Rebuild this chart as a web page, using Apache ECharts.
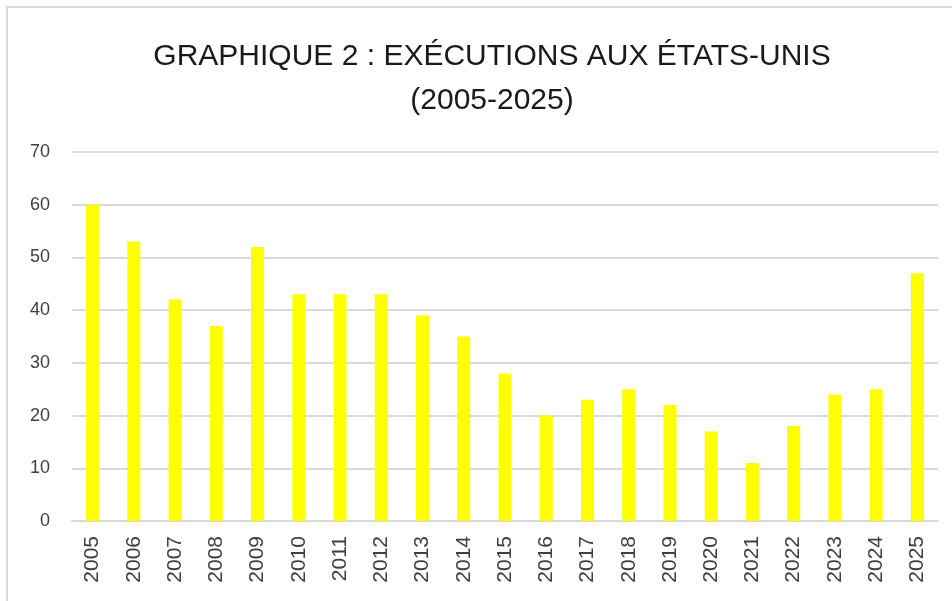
<!DOCTYPE html>
<html>
<head>
<meta charset="utf-8">
<script src="https://cdn.jsdelivr.net/npm/echarts@6/dist/echarts.min.js"></script>
<style>
  html, body { margin: 0; padding: 0; background: #fff; }
  #frame {
    position: absolute; left: 6px; top: 6px; width: 960px; height: 610px;
    border: 2px solid #d9d9d9; box-sizing: border-box;
  }
  #chart { position: absolute; left: 0; top: 0; width: 952px; height: 601px; }
</style>
</head>
<body>
<div id="frame"></div>
<div id="chart"></div>
<script>
const years = ["2005", "2006", "2007", "2008", "2009", "2010", "2011", "2012", "2013", "2014",
  "2015", "2016", "2017", "2018", "2019", "2020", "2021", "2022", "2023", "2024", "2025"];
const executions = [60, 53, 42, 37, 52, 43, 43, 43, 39, 35, 28, 20, 23, 25, 22, 17, 11, 18, 24, 25, 47];
const titleLines = ["GRAPHIQUE 2 : EXÉCUTIONS AUX ÉTATS-UNIS", "(2005-2025)"];

const chart = echarts.init(document.getElementById("chart"));

chart.setOption({
  backgroundColor: "transparent",
  title: {
    text: titleLines.join("\n"),
    left: 487,
    textAlign: "center",
    top: 30,
    textStyle: {
      fontFamily: "Liberation Sans, sans-serif",
      fontSize: 30,
      fontWeight: "normal",
      color: "#1a1a1a",
      lineHeight: 44,
    },
  },
  grid: {
    left: 72,
    right: 14,
    top: 152,
    bottom: 80,
  },
  xAxis: {
    type: "category",
    data: years,
    axisLine: { lineStyle: { color: "#d9d9d9", width: 2 } },
    axisTick: { show: false },
    axisLabel: {
      rotate: 90,
      color: "#404040",
      fontSize: 21,
      fontFamily: "Liberation Sans, sans-serif",
      margin: 15,
      interval: 0,
    },
  },
  yAxis: {
    type: "value",
    min: 0,
    max: 70,
    interval: 10,
    axisLine: { show: false },
    axisTick: { show: false },
    splitLine: { lineStyle: { color: "#d9d9d9", width: 2 } },
    axisLabel: {
      color: "#404040",
      fontSize: 18,
      fontFamily: "Liberation Sans, sans-serif",
      margin: 22,
    },
  },
  series: [
    {
      type: "bar",
      data: executions,
      barWidth: 13,
      itemStyle: { color: "#ffff00" },
    },
  ],
});
</script>
</body>
</html>
